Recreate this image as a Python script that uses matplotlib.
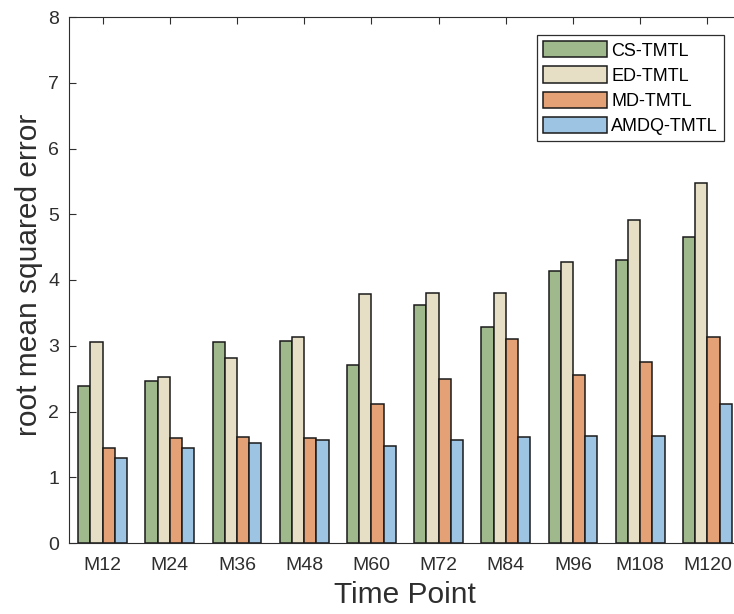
import matplotlib
matplotlib.use("Agg")
import matplotlib.pyplot as plt
import numpy as np

categories = ["M12", "M24", "M36", "M48", "M60", "M72", "M84", "M96", "M108", "M120"]
series_names = ["CS-TMTL", "ED-TMTL", "MD-TMTL", "AMDQ-TMTL"]
cs_tmtl = [2.39, 2.46, 3.05, 3.07, 2.70, 3.62, 3.29, 4.13, 4.30, 4.65]
ed_tmtl = [3.06, 2.53, 2.81, 3.14, 3.78, 3.80, 3.80, 4.27, 4.91, 5.48]
md_tmtl = [1.44, 1.59, 1.61, 1.59, 2.11, 2.50, 3.10, 2.55, 2.75, 3.14]
amdq_tmtl = [1.30, 1.44, 1.52, 1.56, 1.47, 1.56, 1.61, 1.63, 1.63, 2.12]
colors = ["#9fb98c", "#e7dfc5", "#e5a176", "#9dc5e3"]

plt.rcParams['font.family'] = ['Liberation Sans', 'DejaVu Sans']
text_color = "#2e2e2e"

fig = plt.figure(figsize=(7.34, 6.14), dpi=100)
ax = fig.add_axes([69/734, 71/614, 672/734, 526/614])

x = np.arange(1, len(categories) + 1)
nb = 4
group_w = nb / (nb + 1.5)
bw = group_w / nb
all_series = [cs_tmtl, ed_tmtl, md_tmtl, amdq_tmtl]
for i, (vals, name, c) in enumerate(zip(all_series, series_names, colors)):
    offs = (i - (nb - 1) / 2) * bw
    ax.bar(x + offs, vals, width=bw, color=c, edgecolor="#1a1a1a",
           linewidth=1.1, label=name, zorder=2)

ax.set_xlim(0.5, 10.5)
ax.set_ylim(0, 8)
ax.set_xticks(x)
ax.set_xticklabels(categories)
ax.set_yticks(range(0, 9))
ax.tick_params(direction="in", top=True, right=True, length=5, width=0.8,
               labelsize=14, colors=text_color)
ax.tick_params(axis="x", pad=10)
ax.tick_params(axis="y", pad=7)
for sp in ax.spines.values():
    sp.set_color(text_color)
    sp.set_linewidth(0.8)

ax.set_xlabel("Time Point", fontsize=21.5, color=text_color, labelpad=5)
ax.set_ylabel("root mean squared error", fontsize=21.5, color=text_color)
ax.yaxis.set_label_coords((43 - 69) / 672, (614 - 274.5 - 71) / 526)

leg = ax.legend(loc="upper right", bbox_to_anchor=(724/734, 1 - 35/614),
                bbox_transform=fig.transFigure, fontsize=13, frameon=True,
                fancybox=False, borderaxespad=0, handlelength=3.5,
                handleheight=1.0, handletextpad=0.25, labelspacing=0.38,
                borderpad=0.35)
leg.get_frame().set_edgecolor(text_color)
leg.get_frame().set_linewidth(0.9)
leg.get_frame().set_alpha(1)

fig.savefig("out.png", dpi=100)
